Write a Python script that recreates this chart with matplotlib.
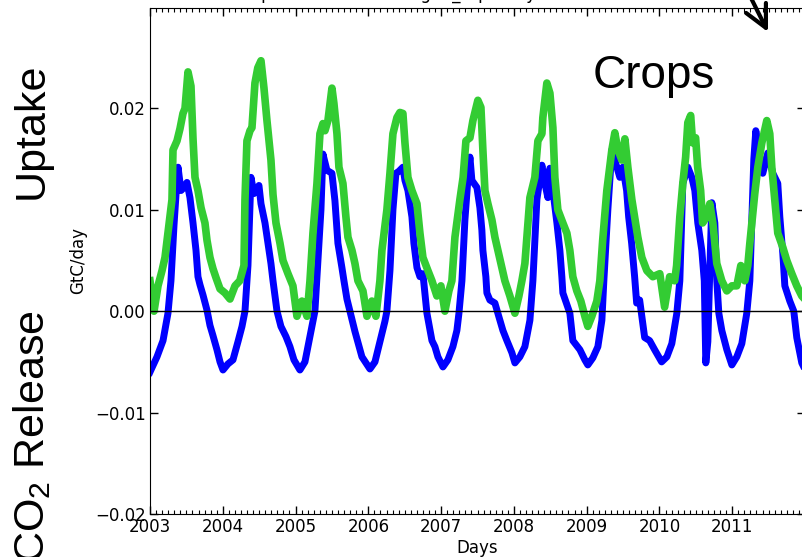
import matplotlib
matplotlib.use("Agg")
import matplotlib.pyplot as plt
from matplotlib.ticker import MultipleLocator

# crop flux, blue series (decimal year, GtC/day)
blue_t = [2003.000, 2003.096, 2003.179, 2003.247, 2003.288, 2003.330, 2003.371, 2003.385,
          2003.426, 2003.467, 2003.508, 2003.549, 2003.591, 2003.632, 2003.659, 2003.687,
          2003.728, 2003.783, 2003.824, 2003.865, 2003.920, 2003.962, 2004.003, 2004.071,
          2004.140, 2004.209, 2004.264, 2004.305, 2004.346, 2004.387, 2004.429, 2004.470,
          2004.497, 2004.525, 2004.580, 2004.621, 2004.662, 2004.690, 2004.717, 2004.745,
          2004.799, 2004.868, 2004.923, 2004.978, 2005.060, 2005.129, 2005.198, 2005.266,
          2005.308, 2005.349, 2005.376, 2005.431, 2005.500, 2005.541, 2005.582, 2005.637,
          2005.665, 2005.706, 2005.747, 2005.816, 2005.912, 2006.022, 2006.091, 2006.159,
          2006.228, 2006.255, 2006.297, 2006.338, 2006.379, 2006.420, 2006.475, 2006.503,
          2006.544, 2006.599, 2006.626, 2006.668, 2006.709, 2006.750, 2006.805, 2006.874,
          2006.915, 2006.956, 2007.025, 2007.093, 2007.162, 2007.217, 2007.245, 2007.286,
          2007.327, 2007.368, 2007.396, 2007.423, 2007.492, 2007.533, 2007.560, 2007.574,
          2007.615, 2007.629, 2007.670, 2007.739, 2007.780, 2007.849, 2007.904, 2007.973,
          2008.014, 2008.082, 2008.151, 2008.220, 2008.261, 2008.316, 2008.385, 2008.426,
          2008.467, 2008.495, 2008.536, 2008.591, 2008.632, 2008.659, 2008.673, 2008.769,
          2008.810, 2008.907, 2008.975, 2009.016, 2009.085, 2009.154, 2009.209, 2009.236,
          2009.291, 2009.346, 2009.415, 2009.456, 2009.497, 2009.549, 2009.577, 2009.618,
          2009.659, 2009.687, 2009.728, 2009.797, 2009.865, 2009.934, 2010.030, 2010.102,
          2010.170, 2010.239, 2010.280, 2010.321, 2010.390, 2010.445, 2010.486, 2010.527,
          2010.582, 2010.616, 2010.637, 2010.665, 2010.692, 2010.720, 2010.761, 2010.788,
          2010.816, 2010.857, 2010.926, 2010.995, 2011.063, 2011.132, 2011.200, 2011.242,
          2011.269, 2011.297, 2011.324, 2011.379, 2011.420, 2011.489, 2011.558, 2011.626,
          2011.654, 2011.695, 2011.723, 2011.791, 2011.846, 2011.887, 2011.956, 2011.990]
blue_v = [-0.0060, -0.0045, -0.0029, -0.0002, 0.0030, 0.0085, 0.0130, 0.0142,
          0.0119, 0.0122, 0.0127, 0.0112, 0.0087, 0.0060, 0.0034, 0.0026,
          0.0016, 0.0001, -0.0014, -0.0024, -0.0038, -0.0050, -0.0058, -0.0052,
          -0.0048, -0.0030, -0.0015, 0.0000, 0.0045, 0.0132, 0.0116, 0.0120,
          0.0124, 0.0106, 0.0087, 0.0067, 0.0047, 0.0030, 0.0015, 0.0000,
          -0.0015, -0.0025, -0.0035, -0.0048, -0.0058, -0.0050, -0.0025, 0.0000,
          0.0050, 0.0100, 0.0155, 0.0139, 0.0136, 0.0109, 0.0067, 0.0043,
          0.0030, 0.0012, 0.0000, -0.0020, -0.0045, -0.0057, -0.0050, -0.0030,
          -0.0010, 0.0000, 0.0040, 0.0100, 0.0136, 0.0138, 0.0142, 0.0129,
          0.0119, 0.0093, 0.0067, 0.0043, 0.0034, 0.0037, -0.0002, -0.0029,
          -0.0035, -0.0045, -0.0055, -0.0048, -0.0035, -0.0019, -0.0002, 0.0030,
          0.0090, 0.0130, 0.0152, 0.0129, 0.0122, 0.0102, 0.0080, 0.0060,
          0.0034, 0.0018, 0.0011, 0.0008, -0.0002, -0.0019, -0.0029, -0.0041,
          -0.0051, -0.0045, -0.0035, -0.0009, 0.0030, 0.0110, 0.0144, 0.0126,
          0.0112, 0.0141, 0.0119, 0.0087, 0.0060, 0.0034, 0.0018, -0.0002,
          -0.0029, -0.0038, -0.0048, -0.0053, -0.0046, -0.0035, -0.0009, 0.0030,
          0.0100, 0.0159, 0.0142, 0.0132, 0.0142, 0.0119, 0.0093, 0.0067,
          0.0034, 0.0008, 0.0011, -0.0026, -0.0029, -0.0038, -0.0050, -0.0045,
          -0.0032, -0.0002, 0.0030, 0.0126, 0.0142, 0.0132, 0.0119, 0.0087,
          0.0060, 0.0030, -0.0051, -0.0030, 0.0040, 0.0107, 0.0087, 0.0030,
          -0.0002, -0.0019, -0.0038, -0.0053, -0.0045, -0.0032, -0.0002, 0.0030,
          0.0090, 0.0150, 0.0178, 0.0152, 0.0136, 0.0156, 0.0136, 0.0126,
          0.0093, 0.0057, 0.0025, 0.0010, 0.0000, -0.0026, -0.0051, -0.0056]

# crop flux, green series
green_t = [2003.000, 2003.055, 2003.110, 2003.165, 2003.206, 2003.247, 2003.302, 2003.316,
           2003.371, 2003.412, 2003.453, 2003.481, 2003.522, 2003.563, 2003.591, 2003.618,
           2003.659, 2003.701, 2003.755, 2003.783, 2003.824, 2003.865, 2003.907, 2003.962,
           2004.030, 2004.099, 2004.168, 2004.234, 2004.291, 2004.305, 2004.332, 2004.374,
           2004.401, 2004.442, 2004.481, 2004.525, 2004.566, 2004.607, 2004.662, 2004.690,
           2004.731, 2004.786, 2004.827, 2004.896, 2004.964, 2005.019, 2005.088, 2005.157,
           2005.198, 2005.239, 2005.294, 2005.335, 2005.376, 2005.404, 2005.445, 2005.500,
           2005.527, 2005.569, 2005.596, 2005.651, 2005.692, 2005.720, 2005.775, 2005.816,
           2005.857, 2005.926, 2005.981, 2006.049, 2006.104, 2006.159, 2006.187, 2006.255,
           2006.297, 2006.338, 2006.393, 2006.434, 2006.475, 2006.503, 2006.544, 2006.599,
           2006.668, 2006.709, 2006.750, 2006.819, 2006.874, 2006.942, 2006.997, 2007.052,
           2007.107, 2007.148, 2007.190, 2007.258, 2007.302, 2007.341, 2007.396, 2007.437,
           2007.505, 2007.547, 2007.574, 2007.602, 2007.643, 2007.698, 2007.739, 2007.780,
           2007.835, 2007.876, 2007.945, 2008.014, 2008.069, 2008.110, 2008.151, 2008.220,
           2008.288, 2008.330, 2008.385, 2008.398, 2008.453, 2008.495, 2008.536, 2008.563,
           2008.604, 2008.673, 2008.728, 2008.769, 2008.810, 2008.865, 2008.920, 2008.975,
           2009.016, 2009.071, 2009.140, 2009.181, 2009.220, 2009.277, 2009.346, 2009.387,
           2009.429, 2009.484, 2009.525, 2009.566, 2009.621, 2009.659, 2009.703, 2009.758,
           2009.827, 2009.909, 2010.005, 2010.071, 2010.140, 2010.209, 2010.236, 2010.280,
           2010.321, 2010.360, 2010.390, 2010.429, 2010.456, 2010.497, 2010.525, 2010.566,
           2010.593, 2010.648, 2010.692, 2010.734, 2010.788, 2010.857, 2010.926, 2010.995,
           2011.063, 2011.118, 2011.173, 2011.214, 2011.242, 2011.310, 2011.352, 2011.407,
           2011.475, 2011.516, 2011.544, 2011.585, 2011.626, 2011.695, 2011.750, 2011.819,
           2011.887, 2011.956, 2011.995]
green_v = [0.0030, 0.0000, 0.0025, 0.0040, 0.0053, 0.0077, 0.0110, 0.0159,
           0.0168, 0.0180, 0.0195, 0.0200, 0.0236, 0.0222, 0.0170, 0.0132,
           0.0119, 0.0102, 0.0087, 0.0070, 0.0053, 0.0042, 0.0033, 0.0022,
           0.0018, 0.0012, 0.0025, 0.0030, 0.0045, 0.0110, 0.0168, 0.0178,
           0.0181, 0.0225, 0.0240, 0.0247, 0.0220, 0.0188, 0.0149, 0.0115,
           0.0087, 0.0067, 0.0050, 0.0037, 0.0025, -0.0005, 0.0010, -0.0005,
           0.0030, 0.0077, 0.0126, 0.0175, 0.0185, 0.0178, 0.0188, 0.0220,
           0.0205, 0.0175, 0.0142, 0.0126, 0.0093, 0.0073, 0.0060, 0.0047,
           0.0030, 0.0020, -0.0005, 0.0010, -0.0005, 0.0030, 0.0060, 0.0100,
           0.0136, 0.0175, 0.0191, 0.0196, 0.0195, 0.0166, 0.0132, 0.0119,
           0.0106, 0.0077, 0.0053, 0.0040, 0.0030, 0.0015, 0.0025, 0.0000,
           0.0020, 0.0030, 0.0073, 0.0110, 0.0132, 0.0168, 0.0171, 0.0188,
           0.0208, 0.0201, 0.0159, 0.0119, 0.0106, 0.0090, 0.0073, 0.0060,
           0.0043, 0.0030, 0.0015, -0.0002, 0.0015, 0.0030, 0.0047, 0.0112,
           0.0132, 0.0168, 0.0175, 0.0191, 0.0225, 0.0215, 0.0181, 0.0132,
           0.0100, 0.0087, 0.0077, 0.0060, 0.0034, 0.0020, 0.0010, -0.0005,
           -0.0015, -0.0005, 0.0010, 0.0030, 0.0070, 0.0119, 0.0159, 0.0176,
           0.0159, 0.0149, 0.0170, 0.0142, 0.0110, 0.0093, 0.0073, 0.0053,
           0.0040, 0.0034, 0.0037, 0.0004, 0.0034, 0.0030, 0.0045, 0.0093,
           0.0126, 0.0152, 0.0186, 0.0193, 0.0166, 0.0171, 0.0142, 0.0119,
           0.0087, 0.0093, 0.0106, 0.0087, 0.0047, 0.0030, 0.0020, 0.0025,
           0.0025, 0.0045, 0.0030, 0.0045, 0.0067, 0.0116, 0.0142, 0.0166,
           0.0188, 0.0175, 0.0142, 0.0110, 0.0077, 0.0063, 0.0050, 0.0037,
           0.0025, 0.0015, 0.0012]

years = list(range(2003, 2012))
yticks = [-0.02, -0.01, 0.0, 0.01, 0.02]
ytick_labels = ["\u22120.02", "\u22120.01", "0.00", "0.01", "0.02"]

plt.rcParams["mathtext.fontset"] = "custom"
plt.rcParams["mathtext.rm"] = "Liberation Sans"
plt.rcParams["mathtext.it"] = "Liberation Sans:italic"

W, H = 803, 557
fig = plt.figure(figsize=(W / 100, H / 100), dpi=100)
ax = fig.add_axes([150 / W, 43 / H, 655 / W, 506 / H])

ax.plot(blue_t, blue_v, color="#0000ff", lw=5)
ax.plot(green_t, green_v, color="#33cc33", lw=5.5)
ax.axhline(0, color="k", lw=1, zorder=3)

ax.set_xlim(2003, 2012)
ax.set_ylim(-0.02, 0.0299)
ax.set_xticks(years)
ax.set_xticklabels([str(y) for y in years])
ax.xaxis.set_minor_locator(MultipleLocator(1 / 12))
ax.set_yticks(yticks)
ax.set_yticklabels(ytick_labels)
ax.tick_params(which="major", direction="in", top=True, right=True,
               length=6, width=1, labelsize=12, pad=3)
ax.tick_params(which="minor", direction="in", top=True, length=3, width=0.8)
ax.set_xlabel("Days", fontsize=12, labelpad=2)
ax.set_ylabel("GtC/day", fontsize=12, labelpad=6)

# title mostly cut off by the top edge
fig.text(233 / W, 1 + 1 / H, "Crop Flux Simulated log10_Atp Daily Mean Totals",
         fontsize=12, ha="left", va="baseline")

fig.text(32 / W, 1 - 131 / H, "Uptake", rotation=90, fontsize=31,
         family="Liberation Sans", ha="center", va="center")
fig.text(32 / W, 1 - 310 / H, "CO$_2$ Release", rotation=90, fontsize=31,
         family="Liberation Sans", ha="center", va="top")
fig.text(593 / W, 1 - 88 / H, "Crops", fontsize=33,
         family="Liberation Sans", ha="left", va="baseline")

ax.annotate("", xy=(768 / W, 1 - 32 / H), xytext=(744 / W, 1 + 16 / H),
            xycoords="figure fraction", textcoords="figure fraction",
            annotation_clip=False,
            arrowprops=dict(arrowstyle="->,head_length=0.8,head_width=0.4",
                            lw=3, color="k", mutation_scale=20,
                            shrinkA=0, shrinkB=0))

fig.savefig("out.png", dpi=100)
